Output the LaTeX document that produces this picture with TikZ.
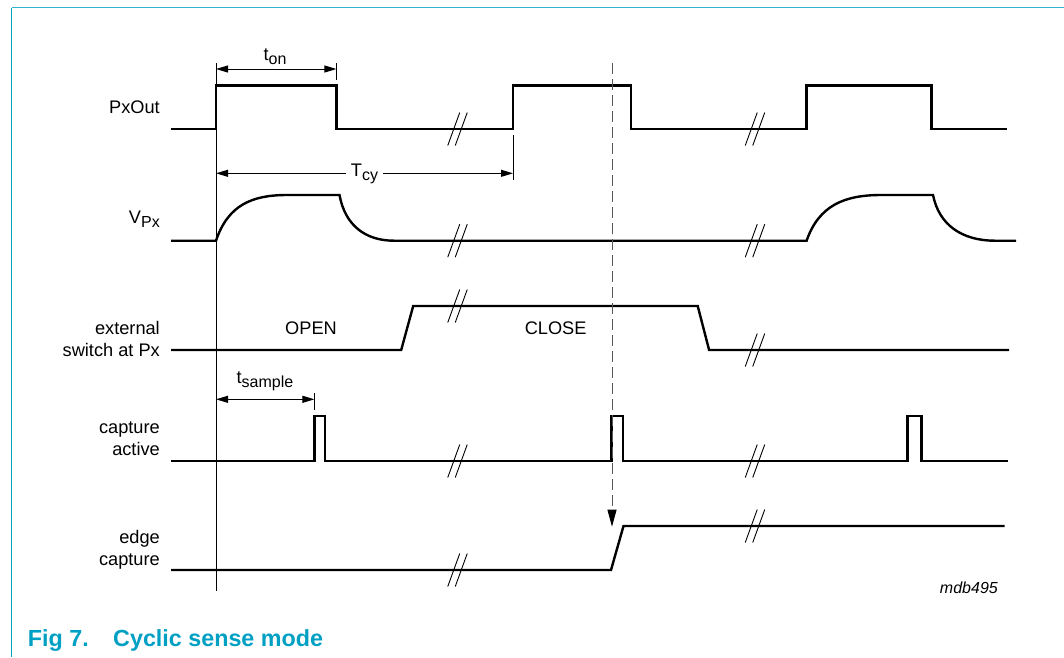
\documentclass[tikz,border=0pt]{standalone}
\usepackage{fontspec}
\setmainfont{Liberation Sans}
\usetikzlibrary{arrows.meta}
\definecolor{nxpteal}{RGB}{0,160,196}
\newcommand{\lowsub}[1]{\raisebox{-4pt}{\fontsize{16}{16}\selectfont #1}}
\tikzset{
	wave/.style={line width=2.4pt},
	thin line/.style={line width=1pt},
	brk/.style={line width=0.9pt},
	dim/.style={line width=1pt, {Triangle[length=12pt,width=7pt]}-{Triangle[length=12pt,width=7pt]}},
	siglabel/.style={font=\fontsize{18.2}{22}\selectfont, anchor=base east, inner sep=0pt},
	statelabel/.style={font=\fontsize{18.2}{22}\selectfont, anchor=base, inner sep=0pt},
}
\begin{document}
\begin{tikzpicture}[x=1pt, y=-1pt]
	\useasboundingbox (0,0) rectangle (1064,657);
	\draw[nxpteal!80, line width=1.2pt] (11.5,7.5) -- (1064,7.5);
	\draw[nxpteal, line width=1pt] (11.5,7.5) -- (11.5,657);
	\node[siglabel] (lblout) at (160,113.3) {PxOut};
	\node[siglabel] (lblvpx) at (160,223) {V\lowsub{Px}};
	\node[siglabel] (lblswa) at (160,334.3) {external};
	\node[siglabel] (lblswb) at (160,356.5) {switch at Px};
	\node[siglabel] (lblcapa) at (160,433.3) {capture};
	\node[siglabel] (lblcapb) at (160,455.3) {active};
	\node[siglabel] (lbledga) at (160,543.3) {edge};
	\node[siglabel] (lbledgb) at (160,565.3) {capture};
	\coordinate(on0) at (216,63.3);
	\coordinate(on1) at (336.4,63.3);
	\coordinate(cy1) at (513,135);
	\coordinate(smp1) at (314.4,393);
	\draw[thin line] (on0) -- (216,591);
	\draw[thin line] (on1) -- (336.4,80);
	\draw[thin line] (cy1) -- (513,180);
	\draw[thin line] (smp1) -- (314.4,410);
	\draw[dim] (216,69) -- (336.4,69);
	\draw[dim] (216,173.3) -- (513,173.3);
	\draw[dim] (216,399.3) -- (314.4,399.3);
	\node[statelabel] (ton) at (275,60) {t\lowsub{on}};
	\node[statelabel, fill=white, inner xsep=5pt] (tcy) at (364.5,176.7) {T\lowsub{cy}};
	\node[statelabel] (tsmp) at (265,383) {t\lowsub{sample}};
	\node[statelabel] (open) at (311,334) {OPEN};
	\node[statelabel] (close) at (555.6,334) {CLOSE};
	\draw[wave] (171,129) -- (216,129) -- (216,85.5) -- (336.4,85.5) -- (336.4,129) -- (513,129) -- (513,85.5)
		-- (631,85.5) -- (631,129) -- (806.6,129) -- (806.6,85.5) -- (931.5,85.5) -- (931.5,129) -- (1006.5,129);
	\draw[wave] (171,240.7) -- (216,240.7) .. controls (228,205) and (252,195) .. (287,195) -- (339.5,195)
		.. controls (345,225) and (365,240.7) .. (394,240.7) -- (806.6,240.7) .. controls (819,205) and (845,195) .. (881,195)
		-- (933,195) .. controls (939,225) and (962,240.7) .. (995,240.7) -- (1016,240.7);
	\draw[wave] (171,350) -- (401.2,350) -- (413.2,306) -- (697.7,306) -- (709.1,350) -- (1009.2,350);
	\draw[wave] (171,461) -- (314.4,461) -- (314.4,416) -- (325,416) -- (325,461) -- (611.3,461) -- (611.3,416)
		-- (623,416) -- (623,461) -- (907.6,461) -- (907.6,416) -- (921.5,416) -- (921.5,461) -- (1007.5,461);
	\draw[wave] (171,570) -- (611,570) -- (623.5,526) -- (1004.7,526);
	\foreach \bx/\by in {457.5/129, 755/129, 457.5/240.7, 755/240.7, 457.5/306, 755/350, 457.5/461, 755/461, 457.5/570, 755/526}{
		\draw[brk] (\bx-9.75,\by+16.5) -- (\bx+2.25,\by-16.5);
		\draw[brk] (\bx-2.25,\by+16.5) -- (\bx+9.75,\by-16.5);
	}
	\coordinate(cap2) at (612,63.3);
	\coordinate(edgeup) at (612,526.7);
	\draw[line width=1pt, black!65, dash pattern=on 11pt off 5pt, -{Triangle[length=17pt,width=9pt,color=black]}] (cap2) -- (edgeup);
	\node[font=\fontsize{16}{16}\selectfont\itshape, anchor=base east, inner sep=0pt] (code) at (998,593.3) {mdb495};
	\node[font=\fontsize{23.3}{28}\selectfont\bfseries, text=nxpteal, anchor=base west, inner sep=0pt] (caption) at (27.7,646.7)
		{Fig 7.\hspace{24.5pt}Cyclic sense mode};
\end{tikzpicture}
\end{document}
